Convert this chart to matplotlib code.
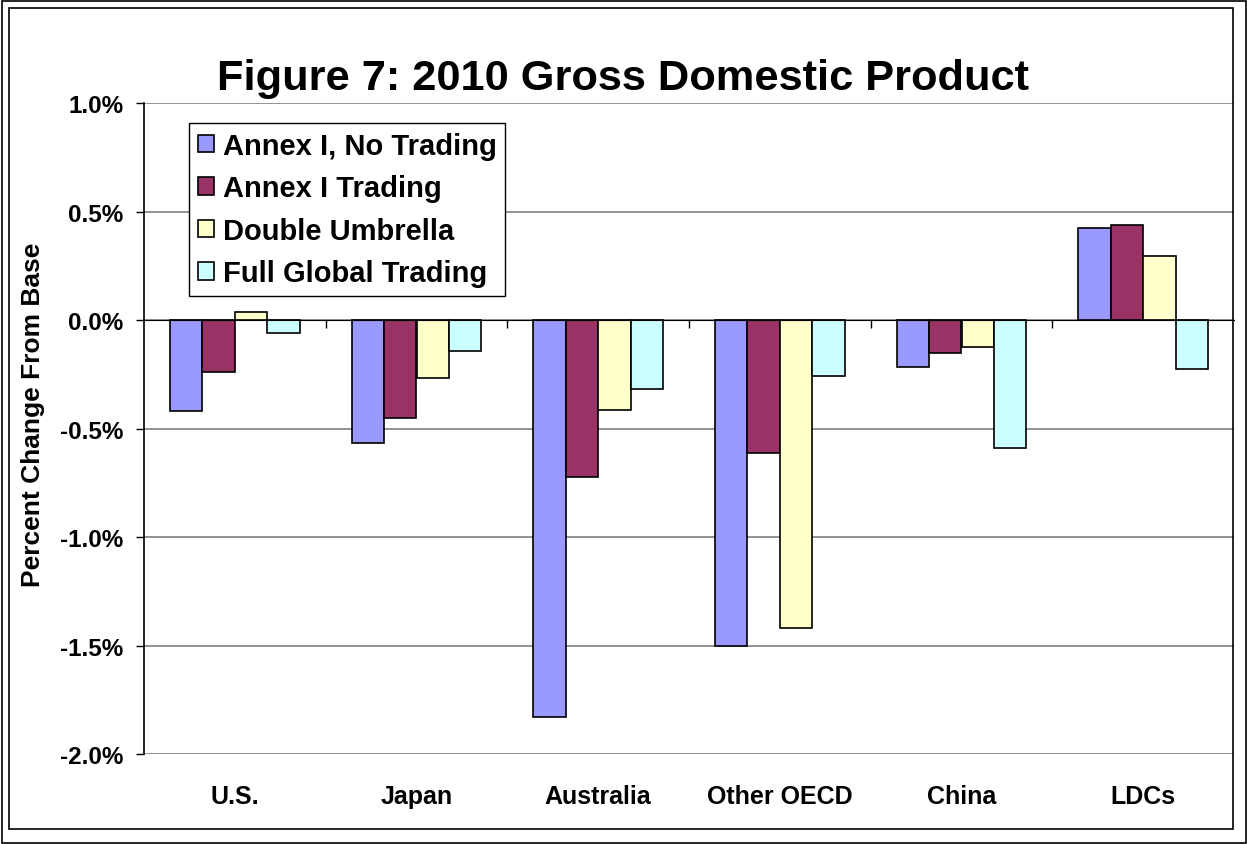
import numpy as np
import matplotlib
matplotlib.use('Agg')
import matplotlib.pyplot as plt
from matplotlib.patches import Rectangle, Patch

plt.rcParams['font.family'] = ['Liberation Sans', 'DejaVu Sans']
plt.rcParams['font.weight'] = 'bold'

regions = ['U.S.', 'Japan', 'Australia', 'Other OECD', 'China', 'LDCs']
series = ['Annex I, No Trading', 'Annex I Trading', 'Double Umbrella', 'Full Global Trading']
no_trading = [-0.42, -0.568, -1.83, -1.50, -0.216, 0.425]
annex_trading = [-0.239, -0.45, -0.723, -0.613, -0.149, 0.437]
double_umbrella = [0.04, -0.266, -0.413, -1.42, -0.123, 0.294]
full_global = [-0.057, -0.14, -0.318, -0.257, -0.59, -0.223]
colors = ['#9999FF', '#993366', '#FFFFCC', '#CCFFFF']
yticks = [1.0, 0.5, 0.0, -0.5, -1.0, -1.5, -2.0]

W, H = 1247, 845
fig = plt.figure(figsize=(W / 100, H / 100), dpi=100)

# frames (outer + chart area border)
fig.patches.append(Rectangle((1.5 / W, 1.5 / H), (W - 3) / W, (H - 3) / H,
                             transform=fig.transFigure, fill=False,
                             edgecolor='black', linewidth=1.2))
fig.patches.append(Rectangle((9 / W, (H - 830) / H), (1233 - 9) / W, (830 - 9) / H,
                             transform=fig.transFigure, fill=False,
                             edgecolor='black', linewidth=1.2))

left, right, top, bottom = 144, 1234, 104.3, 755
ax = fig.add_axes([left / W, 1 - bottom / H, (right - left) / W, (bottom - top) / H])

x = np.arange(len(regions))
w = 0.178
data = [no_trading, annex_trading, double_umbrella, full_global]
for i, vals in enumerate(data):
    ax.bar(x + (i - 1.5) * w, vals, width=w, color=colors[i], edgecolor='black',
           linewidth=1.2, label=series[i], zorder=3)

ax.set_xlim(-0.5, 5.5)
ax.set_ylim(-2.0, 1.0)
ax.set_yticks(yticks)
ax.set_yticklabels([f'{v:.1f}%' for v in yticks], fontsize=17.5, fontweight='bold')
ax.tick_params(axis='y', direction='out', length=6, width=1, pad=9)
ax.yaxis.grid(True, color='#808080', linewidth=1.2, zorder=0)

# category axis crosses at zero with ticks between groups
ax.spines['bottom'].set_position(('data', 0))
ax.spines['bottom'].set_zorder(4)
ax.set_xticks(np.arange(0.5, 5.5, 1.0))
ax.set_xticklabels([])
ax.tick_params(axis='x', direction='out', length=6, width=1)
for s in ['top', 'right']:
    ax.spines[s].set_visible(False)
ax.spines['left'].set_linewidth(1.2)

for xi, name in zip(x, regions):
    ax.text(xi, -0.065, name, transform=ax.get_xaxis_transform(), ha='center',
            va='center', fontsize=18, fontweight='bold')

handles = [Patch(facecolor=c, edgecolor='black', linewidth=1.2) for c in colors]
leg = ax.legend(handles, series, loc='upper left',
                bbox_to_anchor=((189 - left) / (right - left), (bottom - 124) / (bottom - top)),
                borderaxespad=0, frameon=True, fancybox=False, framealpha=1,
                prop={'size': 21, 'weight': 'bold'}, handlelength=0.55, handleheight=0.55,
                handletextpad=0.3, labelspacing=0.5, borderpad=0.3)
leg.get_frame().set_edgecolor('black')
leg.get_frame().set_linewidth(1.0)
leg.set_zorder(5)

fig.text(623 / W, 1 - 90 / H, 'Figure 7: 2010 Gross Domestic Product', ha='center',
         va='baseline', fontsize=31.2, fontweight='bold')
fig.text(33 / W, 1 - 415 / H, 'Percent Change From Base', rotation=90, ha='center',
         va='center', fontsize=19, fontweight='bold')

fig.savefig('out.png', dpi=100)
